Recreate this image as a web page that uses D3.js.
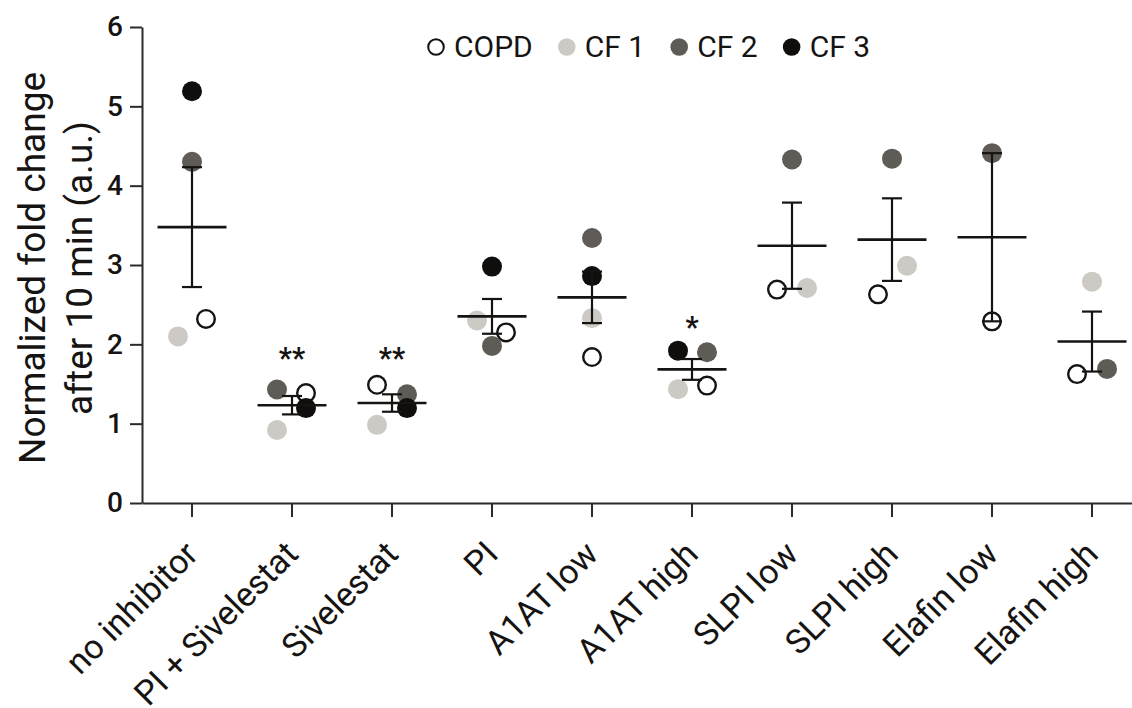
<!DOCTYPE html>
<html>
<head>
<meta charset="utf-8">
<script src="https://cdn.jsdelivr.net/npm/d3@7"></script>
<style>
  body { margin: 0; background: #fff; }
  svg { font-family: Roboto, 'DejaVu Sans', sans-serif; }
</style>
</head>
<body>
<div id="chart"></div>
<script>
// chart data
const categories = ['no inhibitor', 'PI + Sivelestat', 'Sivelestat', 'PI', 'A1AT low',
  'A1AT high', 'SLPI low', 'SLPI high', 'Elafin low', 'Elafin high'];
const seriesNames = ['COPD', 'CF 1', 'CF 2', 'CF 3'];
const copdValues = [2.32, 1.385, 1.49, 2.15, 1.84, 1.48, 2.69, 2.63, 2.29, 1.625];
const cf1Values = [2.10, 0.92, 0.985, 2.30, 2.33, 1.435, 2.71, 2.99, null, 2.79];
const cf2Values = [4.30, 1.43, 1.37, 1.98, 3.34, 1.90, 4.33, 4.34, 4.41, 1.69];
const cf3Values = [5.19, 1.196, 1.196, 2.98, 2.86, 1.92, null, null, null, null];
// horizontal scatter of each dot, as a fraction of the category width
const copdJitter = [0.14, 0.14, -0.15, 0.14, 0, 0.15, -0.15, -0.14, 0, -0.15];
const cf1Jitter = [-0.14, -0.15, -0.15, -0.15, 0, -0.14, 0.15, 0.15, 0, 0];
const cf2Jitter = [0, -0.15, 0.15, 0, 0, 0.15, 0, 0, 0, 0.15];
const cf3Jitter = [0, 0.14, 0.15, 0, 0, -0.14, 0, 0, 0, 0];
const yTicks = [0, 1, 2, 3, 4, 5, 6];
const starGroups = ['PI + Sivelestat', 'Sivelestat', 'A1AT high'];
const starTexts = ['**', '**', '*'];
const starValues = [1.70, 1.70, 2.09];

const WIDTH = 1132;
const HEIGHT = 708;
const DOT_RADIUS = 10;
const MEAN_HALF = 34.5;
const CAP_HALF = 10;
const INK = '#161412';
const seriesFill = ['#ffffff', '#cdc9c5', '#5f5b57', '#100e0c'];

const seriesValues = [copdValues, cf1Values, cf2Values, cf3Values];
const seriesJitter = [copdJitter, cf1Jitter, cf2Jitter, cf3Jitter];

const svg = d3
  .select('#chart')
  .append('svg')
  .attr('width', WIDTH)
  .attr('height', HEIGHT);

const x = d3.scaleBand().domain(categories).range([142, 1142]).padding(0);
const y = d3.scaleLinear().domain([0, 6]).range([503, 27]);
const bw = x.bandwidth();
const cx = (c) => x(c) + bw / 2;

// dots, COPD first so that the filled CF dots sit on top
seriesValues.forEach((values, s) => {
  const pts = categories
    .map((c, i) => ({ c, v: values[i], j: seriesJitter[s][i] }))
    .filter((d) => d.v != null);
  svg
    .append('g')
    .selectAll('circle')
    .data(pts)
    .join('circle')
    .attr('cx', (d) => cx(d.c) + d.j * bw)
    .attr('cy', (d) => y(d.v))
    .attr('r', s === 0 ? DOT_RADIUS - 1.2 : DOT_RADIUS)
    .attr('fill', seriesFill[s])
    .attr('stroke', s === 0 ? INK : 'none')
    .attr('stroke-width', 2.4);
});

// mean +/- SEM
const stats = categories.map((c, i) => {
  const vals = seriesValues.map((v) => v[i]).filter((v) => v != null);
  const mean = d3.mean(vals);
  const sem = d3.deviation(vals) / Math.sqrt(vals.length);
  return { c, mean, lo: mean - sem, hi: mean + sem };
});

const gStats = svg
  .append('g')
  .attr('stroke', INK)
  .attr('stroke-width', 2.2)
  .attr('fill', 'none');

gStats
  .selectAll('line.mean')
  .data(stats)
  .join('line')
  .attr('class', 'mean')
  .attr('x1', (d) => cx(d.c) - MEAN_HALF)
  .attr('x2', (d) => cx(d.c) + MEAN_HALF)
  .attr('y1', (d) => y(d.mean))
  .attr('y2', (d) => y(d.mean))
  .attr('stroke-width', 2.6);

gStats
  .selectAll('line.err')
  .data(stats)
  .join('line')
  .attr('class', 'err')
  .attr('x1', (d) => cx(d.c))
  .attr('x2', (d) => cx(d.c))
  .attr('y1', (d) => y(d.lo))
  .attr('y2', (d) => y(d.hi));

['lo', 'hi'].forEach((k) => {
  gStats
    .selectAll('line.cap-' + k)
    .data(stats)
    .join('line')
    .attr('class', 'cap-' + k)
    .attr('x1', (d) => cx(d.c) - CAP_HALF)
    .attr('x2', (d) => cx(d.c) + CAP_HALF)
    .attr('y1', (d) => y(d[k]))
    .attr('y2', (d) => y(d[k]));
});

// significance stars
svg
  .append('g')
  .selectAll('text')
  .data(starGroups)
  .join('text')
  .attr('x', (d) => cx(d))
  .attr('y', (d, i) => y(starValues[i]))
  .attr('text-anchor', 'middle')
  .attr('font-size', 29)
  .attr('font-weight', 700)
  .attr('fill', INK)
  .text((d, i) => starTexts[i]);

// add the Y axis
const gy = svg
  .append('g')
  .attr('transform', 'translate(142,0)')
  .call(
    d3.axisLeft(y)
      .tickValues(yTicks)
      .tickFormat(d3.format('d'))
      .tickSize(12)
      .tickSizeOuter(0)
      .tickPadding(7)
  );
gy.attr('font-family', null).attr('font-size', 28).attr('font-weight', 500);

// add the X axis
const gx = svg
  .append('g')
  .attr('transform', 'translate(0,503)')
  .call(d3.axisBottom(x).tickSize(14).tickSizeOuter(0));
gx.attr('font-family', null).attr('font-size', 34);
gx.selectAll('.tick text')
  .attr('x', 0)
  .attr('y', 0)
  .attr('dy', 0)
  .attr('transform', 'translate(8,53) rotate(-45)')
  .style('text-anchor', 'end');

svg.selectAll('.domain, .tick line').attr('stroke', '#2a2a2a').attr('stroke-width', 2);
svg.selectAll('.tick text').attr('fill', INK);

// y axis title
const title = svg
  .append('text')
  .attr('transform', 'translate(0,268) rotate(-90)')
  .attr('text-anchor', 'middle')
  .attr('font-size', 37)
  .attr('fill', INK);
title.append('tspan').attr('x', 0).attr('y', 45).text('Normalized fold change');
title.append('tspan').attr('x', 0).attr('y', 92).text('after 10 min (a.u.)');

// legend
const gLegend = svg.append('g').attr('transform', 'translate(436,47)');
let lx = 0;
seriesNames.forEach((name, s) => {
  gLegend
    .append('circle')
    .attr('cx', lx)
    .attr('cy', 0)
    .attr('r', s === 0 ? 7.8 : 8.8)
    .attr('fill', seriesFill[s])
    .attr('stroke', s === 0 ? INK : 'none')
    .attr('stroke-width', 2);
  const t = gLegend
    .append('text')
    .attr('x', lx + 18)
    .attr('y', 10)
    .attr('font-size', 30)
    .attr('fill', INK)
    .text(name);
  lx += 18 + t.node().getComputedTextLength() + 34;
});
</script>
</body>
</html>
